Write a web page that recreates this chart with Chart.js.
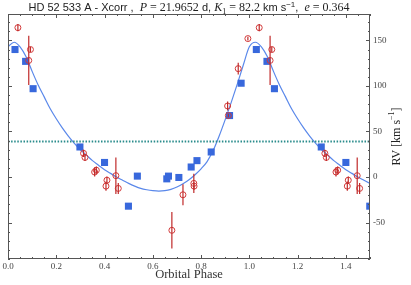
<!DOCTYPE html>
<html>
<head>
<meta charset="utf-8">
<script src="https://cdn.jsdelivr.net/npm/chart.js@4.4.1/dist/chart.umd.min.js"></script>
<style>
  html, body { margin: 0; padding: 0; background: #fff; }
</style>
</head>
<body>
<canvas id="rvChart" width="411" height="285"></canvas>
<script>
// ---- data (phase in [0,1), folded copy added up to 1.5) ----
const bluePhase = [0.029, 0.073, 0.104, 0.298, 0.400, 0.499, 0.536, 0.658, 0.665, 0.708, 0.759, 0.783, 0.842, 0.918, 0.966];
const blueRV    = [140, 127, 97, 33, 16, -32, 1, -2, 1, -0.5, 11, 18, 27.5, 67.5, 103];

const redPhase = [0.041, 0.086, 0.093, 0.313, 0.319, 0.359, 0.366, 0.406, 0.410, 0.447, 0.457, 0.679, 0.725, 0.770, 0.771, 0.910, 0.913, 0.954, 0.994];
const redRV    = [164, 128, 140, 26, 21.5, 5.5, 7.5, -10, -3.5, 1.5, -12.5, -58.5, -19.5, -7, -10, 78, 67.5, 119, 152];
const redErr   = [4, 27, 3, 4, 4, 5, 4, 5, 4, 20, 6, 20, 11.5, 10.5, 4, 5, 2, 6.5, 2];

const curvePhase = [0, 0.025, 0.05, 0.075, 0.1, 0.125, 0.15, 0.175, 0.2, 0.225, 0.25, 0.275, 0.3, 0.325, 0.35, 0.375, 0.4, 0.425, 0.45, 0.475,
                    0.5, 0.525, 0.55, 0.575, 0.6, 0.625, 0.65, 0.675, 0.7, 0.725, 0.75, 0.775, 0.8, 0.825, 0.85, 0.875, 0.9, 0.925, 0.95, 0.975];
const curveRV    = [143, 148, 143, 132, 116, 101, 88, 75, 64, 54, 45, 37, 30, 24, 18, 13, 8, 4, 0, -3.5,
                    -7, -10, -12.5, -14, -15, -15.5, -15, -13.5, -11, -7.5, -3, 2.5, 9, 17, 29, 45, 63, 82, 102, 123];

const systemicRV = 39;
const phaseMax = 1.5;

// fold: show each point at phase and phase+1 (as long as it stays inside the axis)
function fold(phases, values, extra) {
    const pts = [];
    phases.forEach((p, i) => {
        [p, p + 1].forEach(ph => {
            if (ph <= phaseMax + 1e-9) {
                const pt = { x: ph, y: values[i] };
                if (extra) pt.err = extra[i];
                pts.push(pt);
            }
        });
    });
    return pts.sort((a, b) => a.x - b.x);
}

const bluePts = fold(bluePhase, blueRV);
const redPts = fold(redPhase, redRV, redErr);
const curvePts = fold(curvePhase, curveRV);

const SERIF = "'Liberation Serif', 'DejaVu Serif', serif";
const SANS = "'Liberation Sans', Arial, sans-serif";

// ---- plugins ----
const errorBars = {
    id: 'errorBars',
    afterDatasetsDraw(chart) {
        const { ctx, chartArea, scales: { x, y } } = chart;
        ctx.save();
        ctx.beginPath();
        ctx.rect(chartArea.left, chartArea.top, chartArea.width, chartArea.height);
        ctx.clip();
        ctx.strokeStyle = '#c02a2a';
        ctx.lineWidth = 1.2;
        redPts.forEach(p => {
            const px = x.getPixelForValue(p.x);
            ctx.beginPath();
            ctx.moveTo(px, y.getPixelForValue(p.y - p.err));
            ctx.lineTo(px, y.getPixelForValue(p.y + p.err));
            ctx.stroke();
        });
        ctx.restore();
    }
};

const frameTicks = {
    id: 'frameTicks',
    afterDraw(chart) {
        const { ctx, chartArea: a, scales: { x, y } } = chart;
        ctx.save();
        ctx.strokeStyle = '#555';
        ctx.lineWidth = 1;
        ctx.strokeRect(Math.round(a.left) + 0.5, Math.round(a.top) + 0.5,
                       Math.round(a.width) - 1, Math.round(a.height) - 1);

        const tick = (x1, y1, x2, y2) => { ctx.beginPath(); ctx.moveTo(x1, y1); ctx.lineTo(x2, y2); ctx.stroke(); };
        // x ticks (top & bottom, pointing in)
        for (let v = 0; v <= phaseMax + 1e-9; v += 0.05) {
            const major = Math.abs(v / 0.2 - Math.round(v / 0.2)) < 1e-6;
            const len = major ? 4 : 2;
            const px = Math.round(x.getPixelForValue(v)) + 0.5;
            tick(px, a.bottom, px, a.bottom - len);
            tick(px, a.top, px, a.top + len);
        }
        // y ticks (left & right, pointing in)
        for (let v = -90; v <= 179; v += 10) {
            const major = v % 50 === 0;
            const len = major ? 4 : 2;
            const py = Math.round(y.getPixelForValue(v)) + 0.5;
            tick(a.left, py, a.left + len, py);
            tick(a.right, py, a.right - len, py);
        }
        ctx.restore();
    }
};

const titleText = {
    id: 'titleText',
    afterDraw(chart) {
        const { ctx, chartArea: a } = chart;
        const sz = 11;
        const parts = [
            { t: 'HD 52 533 A - Xcorr ,  ', f: `${sz}px ${SANS}` },
            { t: 'P', f: `italic ${sz + 1}px ${SERIF}` },
            { t: ' = 21.9652', f: `${sz + 1}px ${SERIF}` },
            { t: ' d, ', f: `${sz}px ${SANS}` },
            { t: 'K', f: `italic ${sz + 1}px ${SERIF}` },
            { t: '1', f: `${sz - 3}px ${SERIF}`, dy: 2.5 },
            { t: ' = 82.2 ', f: `${sz + 1}px ${SERIF}` },
            { t: 'km s', f: `${sz}px ${SANS}` },
            { t: '\u22121', f: `${sz - 3}px ${SANS}`, dy: -4 },
            { t: ',  ', f: `${sz}px ${SANS}` },
            { t: 'e', f: `italic ${sz + 1}px ${SERIF}` },
            { t: ' = 0.364', f: `${sz + 1}px ${SERIF}` }
        ];
        ctx.save();
        ctx.fillStyle = '#222';
        ctx.textBaseline = 'alphabetic';
        let total = 0;
        parts.forEach(p => { ctx.font = p.f; p.w = ctx.measureText(p.t).width; total += p.w; });
        let cx = (a.left + a.right) / 2 - total / 2;
        parts.forEach(p => {
            ctx.font = p.f;
            ctx.fillText(p.t, cx, 11 + (p.dy || 0));
            cx += p.w;
        });

        // right axis label, reading bottom to top
        ctx.translate(397, (a.top + a.bottom) / 2);
        ctx.rotate(-Math.PI / 2);
        const yl = [
            { t: 'RV [km s', f: `12px ${SERIF}` },
            { t: '\u22121', f: `8px ${SERIF}`, dy: -5 },
            { t: ']', f: `12px ${SERIF}` }
        ];
        let w = 0;
        yl.forEach(p => { ctx.font = p.f; p.w = ctx.measureText(p.t).width; w += p.w; });
        let lx = -w / 2;
        ctx.textBaseline = 'middle';
        yl.forEach(p => {
            ctx.font = p.f;
            ctx.fillText(p.t, lx, 0 + (p.dy || 0));
            lx += p.w;
        });
        ctx.restore();
    }
};

// ---- chart ----
const ctx = document.getElementById('rvChart');
new Chart(ctx.getContext('2d'), {
    type: 'scatter',
    data: {
        datasets: [
            {
                label: 'Xcorr (red)',
                data: redPts,
                pointStyle: 'circle',
                pointRadius: 3,
                backgroundColor: 'rgba(0,0,0,0)',
                borderColor: '#d23a3a',
                borderWidth: 1,
                clip: 0
            },
            {
                label: 'Xcorr (blue)',
                data: bluePts,
                pointStyle: 'rect',
                pointRadius: 5,
                backgroundColor: '#3868dc',
                borderColor: '#3868dc',
                borderWidth: 0,
                clip: 0
            },
            {
                label: 'gamma',
                data: [{ x: 0, y: systemicRV }, { x: phaseMax, y: systemicRV }],
                showLine: true,
                pointRadius: 0,
                borderColor: '#2a8c8c',
                borderWidth: 2,
                borderDash: [1.5, 1.6]
            },
            {
                label: 'fit',
                data: curvePts,
                showLine: true,
                pointRadius: 0,
                borderColor: '#5a88ea',
                borderWidth: 1.2,
                cubicInterpolationMode: 'monotone',
                clip: 0
            }
        ]
    },
    options: {
        responsive: false,
        devicePixelRatio: 1,
        animation: false,
        layout: { padding: { top: 14, left: 8, right: 0, bottom: 0 } },
        plugins: {
            legend: { display: false },
            tooltip: { enabled: false },
            title: { display: false }
        },
        scales: {
            x: {
                type: 'linear',
                min: 0,
                max: phaseMax,
                afterBuildTicks: s => { s.ticks = s.ticks.filter(t => Math.abs(t.value / 0.2 - Math.round(t.value / 0.2)) < 1e-6); },
                afterFit: s => { s.height = 26; },
                grid: { display: false, drawTicks: false },
                border: { display: false },
                ticks: {
                    stepSize: 0.2,
                    autoSkip: false,
                    maxRotation: 0,
                    padding: 2,
                    color: '#444',
                    font: { family: SERIF, size: 9 },
                    callback: v => v.toFixed(1)
                },
                title: {
                    display: true,
                    text: 'Orbital Phase',
                    color: '#333',
                    font: { family: SERIF, size: 12.5 },
                    padding: { top: 0, bottom: 3 }
                }
            },
            y: {
                position: 'right',
                min: -90,
                max: 179,
                afterBuildTicks: s => { s.ticks = s.ticks.filter(t => t.value % 50 === 0); },
                afterFit: s => { s.width = 41; },
                grid: { display: false, drawTicks: false },
                border: { display: false },
                ticks: {
                    stepSize: 50,
                    autoSkip: false,
                    padding: 3,
                    color: '#444',
                    font: { family: SERIF, size: 9 }
                },
                title: { display: false }
            }
        }
    },
    plugins: [errorBars, frameTicks, titleText]
});
</script>
</body>
</html>
